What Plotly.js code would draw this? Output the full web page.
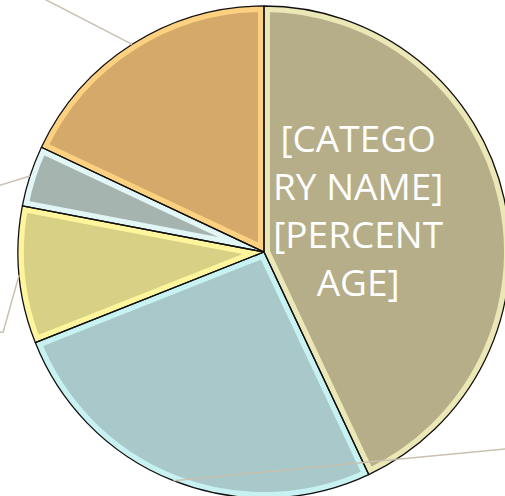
<!DOCTYPE html>
<html><head><meta charset="utf-8">
<script src="https://cdn.plot.ly/plotly-3.0.1.min.js"></script>
<style>
html,body{margin:0;padding:0;overflow:hidden;background:#fff;width:505px;height:496px}
#chart{position:absolute;left:0;top:0;width:540px;height:520px}
</style>
</head><body><div id="chart"></div>
<script>
const categories = ['Category 1','Category 2','Category 3','Category 4','Category 5'];
const values = [43, 26, 9, 4, 18];
const sliceColors = ['#b5ae89','#a8c8ca','#d8d084','#a6b4b0','#d5a96a'];
const edgeColors = ['#ebe7b6','#c8f2f2','#fff59c','#e2f6f6','#fdd180'];
const labelText = '[CATEGO<br>RY NAME]<br>[PERCENT<br>AGE]';

// page geometry (pixels)
const W = 540, H = 520, CX = 264, CY = 252, R = 246;
const px = x => x / W, py = y => 1 - y / H;

// leader-line bends (pixel offsets from the slice rim) for labels lying off the page
const leaderBends = [null, [[365,-35]], [[-16,57],[-30,57]], [[-45,14]], [[-130,-67]]];

const total = values.reduce((a,b)=>a+b,0);
let cum = 0;
const shapes = [];
values.forEach((v,i)=>{
  const th = 2*Math.PI*(cum + v/2)/total;
  cum += v;
  if(!leaderBends[i]) return;
  const sx = CX + R*Math.sin(th), sy = CY - R*Math.cos(th);
  let path = 'M ' + px(sx) + ' ' + py(sy);
  leaderBends[i].forEach(o=>{ path += ' L ' + px(sx+o[0]) + ' ' + py(sy+o[1]); });
  shapes.push({type:'path', xref:'paper', yref:'paper', path:path, line:{color:'#c9c0b0', width:1.5}, layer:'above'});
});

const domain = {x:[px(CX-R), px(CX+R)], y:[py(CY+R), py(CY-R)]};

const base = {
  type:'pie', labels:categories, values:values, sort:false, direction:'clockwise', rotation:0,
  domain:domain,
  marker:{colors:sliceColors, line:{color:edgeColors, width:12}},
  textinfo:'none', showlegend:false, hoverinfo:'none'
};
const outline = {
  type:'pie', labels:categories, values:values, sort:false, direction:'clockwise', rotation:0,
  domain:domain,
  marker:{colors:categories.map(()=> 'rgba(0,0,0,0)'), line:{color:'#111111', width:1.3}},
  textinfo:'none', showlegend:false, hoverinfo:'none'
};

Plotly.newPlot('chart', [base, outline], {
  width:W, height:H, margin:{l:0,r:0,t:0,b:0},
  paper_bgcolor:'#ffffff', plot_bgcolor:'#ffffff', shapes:shapes, showlegend:false,
  annotations:[{text:labelText, xref:'paper', yref:'paper', x:px(358), y:py(209),
    xanchor:'center', yanchor:'middle', showarrow:false, align:'center',
    font:{family:'Open Sans, sans-serif', size:37, color:'#ffffff'}}]
}, {staticPlot:true}).then(gd=>{
  // keep each slice's light edge inside the slice (bevel look)
  const svg = gd.querySelector('.main-svg');
  let defs = svg.querySelector('defs');
  const ns = 'http://www.w3.org/2000/svg';
  const trace = gd.querySelectorAll('.pielayer .trace')[0];
  trace.querySelectorAll('path.surface').forEach((p,k)=>{
    const cp = document.createElementNS(ns,'clipPath');
    cp.setAttribute('id','sliceclip'+k);
    const cpath = document.createElementNS(ns,'path');
    cpath.setAttribute('d', p.getAttribute('d'));
    const tr = p.getAttribute('transform');
    if(tr) cpath.setAttribute('transform', tr);
    cp.appendChild(cpath);
    defs.appendChild(cp);
    p.setAttribute('clip-path','url(#sliceclip'+k+')');
  });
});
</script>
</body></html>
